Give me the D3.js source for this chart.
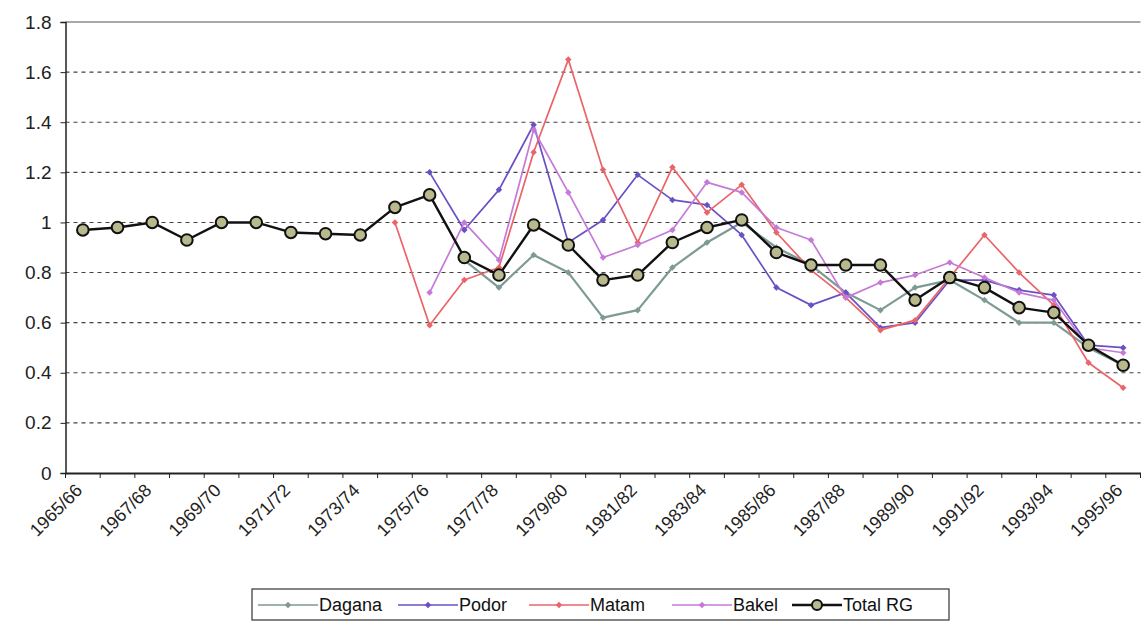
<!DOCTYPE html>
<html><head><meta charset="utf-8">
<script src="https://cdn.jsdelivr.net/npm/d3@7"></script>
<style>body{margin:0;background:#fff;} svg{display:block;font-family:"Liberation Sans",Arial,sans-serif;}</style>
</head><body>
<svg id="c" width="1141" height="623"></svg>
<script>
const categories = ["1965/66","1966/67","1967/68","1968/69","1969/70","1970/71","1971/72","1972/73","1973/74","1974/75","1975/76","1976/77","1977/78","1978/79","1979/80","1980/81","1981/82","1982/83","1983/84","1984/85","1985/86","1986/87","1987/88","1988/89","1989/90","1990/91","1991/92","1992/93","1993/94","1994/95","1995/96"];
const tickLabels = ["1965/66","1967/68","1969/70","1971/72","1973/74","1975/76","1977/78","1979/80","1981/82","1983/84","1985/86","1987/88","1989/90","1991/92","1993/94","1995/96"];
const yTicks = [0,0.2,0.4,0.6,0.8,1,1.2,1.4,1.6,1.8];
const N = null;
const dagana = [N,N,N,N,N,N,N,N,N,N,N,0.85,0.74,0.87,0.80,0.62,0.65,0.82,0.92,1.00,0.90,0.83,0.72,0.65,0.74,0.77,0.69,0.60,0.60,0.50,0.43];
const podor  = [N,N,N,N,N,N,N,N,N,N,1.20,0.97,1.13,1.39,0.92,1.01,1.19,1.09,1.07,0.95,0.74,0.67,0.72,0.58,0.60,0.77,0.77,0.73,0.71,0.51,0.50];
const matam  = [N,N,N,N,N,N,N,N,N,1.00,0.59,0.77,0.82,1.28,1.65,1.21,0.92,1.22,1.04,1.15,0.96,0.81,0.70,0.57,0.61,0.78,0.95,0.80,0.67,0.44,0.34];
const bakel  = [N,N,N,N,N,N,N,N,N,N,0.72,1.00,0.85,1.37,1.12,0.86,0.91,0.97,1.16,1.12,0.98,0.93,0.70,0.76,0.79,0.84,0.78,0.72,0.69,0.50,0.48];
const totalRG= [0.97,0.98,1.00,0.93,1.00,1.00,0.96,0.955,0.95,1.06,1.11,0.86,0.79,0.99,0.91,0.77,0.79,0.92,0.98,1.01,0.88,0.83,0.83,0.83,0.69,0.78,0.74,0.66,0.64,0.51,0.43];
const seriesNames = ["Dagana","Podor","Matam","Bakel","Total RG"];
const seriesColors = ["#7d9a94","#6a50c4","#ea6468","#c67ad8","#111111"];
const seriesData = [dagana,podor,matam,bakel,totalRG];

const svg = d3.select("#c");
const L = 65.5, R = 1140.5, T = 22, B = 473;
const x = d3.scaleBand().domain(categories).range([L,R]).padding(0);
const y = d3.scaleLinear().domain([0,1.8]).range([B,T]);
const cx = d => x(d) + x.bandwidth()/2;

// gridlines
svg.append("g").selectAll("line").data(yTicks.filter(v=>v>0 && v<1.8)).join("line")
  .attr("x1",L).attr("x2",R).attr("y1",d=>y(d)).attr("y2",d=>y(d))
  .attr("stroke","#222").attr("stroke-width",1.1).attr("stroke-dasharray","4,4").attr("opacity",0.85);
// top border
svg.append("line").attr("x1",L).attr("x2",R).attr("y1",y(1.8)).attr("y2",y(1.8)).attr("stroke","#555").attr("stroke-width",1.2);

// y axis
const yAxis = d3.axisLeft(y).tickValues(yTicks).tickSize(5).tickFormat(d=>d3.format("")(+d.toFixed(1)));
const gy = svg.append("g").attr("transform",`translate(${L},0)`).call(yAxis);
gy.select(".domain").attr("stroke","#222").attr("stroke-width",1.5);
gy.selectAll(".tick line").attr("stroke","#222");
gy.selectAll("text").attr("font-size",19).attr("fill","#222").attr("x",-14);

// x axis
const gx = svg.append("g").attr("transform",`translate(0,${B})`)
  .call(d3.axisBottom(x).tickValues([]).tickSizeOuter(0));
gx.select(".domain").attr("stroke","#222").attr("stroke-width",1.8);
svg.append("g").selectAll("line").data(categories.concat(["__end"])).join("line")
  .attr("x1",(d,i)=>L + i*x.bandwidth()).attr("x2",(d,i)=>L + i*x.bandwidth())
  .attr("y1",B).attr("y2",B+5).attr("stroke","#222").attr("stroke-width",1);
svg.append("g").selectAll("text").data(tickLabels).join("text")
  .attr("transform",d=>`translate(${cx(d)-4},${B+14}) rotate(-45)`)
  .attr("text-anchor","end").attr("font-size",18).attr("fill","#222").attr("dy","0.35em")
  .text(d=>d);

// series
const line = d3.line().defined(d=>d.v!==null).x(d=>cx(d.c)).y(d=>y(d.v));
seriesData.forEach((arr,si)=>{
  const pts = arr.map((v,i)=>({c:categories[i],v}));
  const isTotal = si===4;
  svg.append("path").datum(pts).attr("d",line).attr("fill","none")
    .attr("stroke",seriesColors[si]).attr("stroke-width",isTotal?2.4:(si===0?2.2:1.7))
    .attr("stroke-linejoin","round");
  const vp = pts.filter(d=>d.v!==null);
  if(isTotal){
    svg.append("g").selectAll("circle").data(vp).join("circle")
      .attr("cx",d=>cx(d.c)).attr("cy",d=>y(d.v)).attr("r",5.8)
      .attr("fill","#b9b98e").attr("stroke","#111").attr("stroke-width",2);
  } else {
    svg.append("g").selectAll("rect").data(vp).join("rect")
      .attr("x",-2.3).attr("y",-2.3).attr("width",4.6).attr("height",4.6)
      .attr("transform",d=>`translate(${cx(d.c)},${y(d.v)}) rotate(45)`)
      .attr("fill",seriesColors[si]);
  }
});

// legend
const lg = svg.append("g");
lg.append("rect").attr("x",252).attr("y",589).attr("width",697).attr("height",31)
  .attr("fill","#fff").attr("stroke","#333").attr("stroke-width",1.2);
const lx = [258,398,529,672,792];
seriesNames.forEach((n,i)=>{
  const x0 = lx[i], yy = 605, isTotal = i===4;
  const w = isTotal?50:60;
  lg.append("line").attr("x1",x0).attr("x2",x0+w).attr("y1",yy).attr("y2",yy)
    .attr("stroke",seriesColors[i]).attr("stroke-width",isTotal?2.4:1.7);
  const mx = x0 + w/2;
  if(isTotal){
    lg.append("circle").attr("cx",mx).attr("cy",yy).attr("r",5).attr("fill","#b9b98e").attr("stroke","#111").attr("stroke-width",2);
  } else {
    lg.append("rect").attr("x",-2.3).attr("y",-2.3).attr("width",4.6).attr("height",4.6)
      .attr("transform",`translate(${mx},${yy}) rotate(45)`).attr("fill",seriesColors[i]);
  }
  lg.append("text").attr("x",x0+w+1).attr("y",yy).attr("dy","0.36em")
    .attr("font-size",18).attr("fill","#111").text(n);
});
</script>
</body></html>
